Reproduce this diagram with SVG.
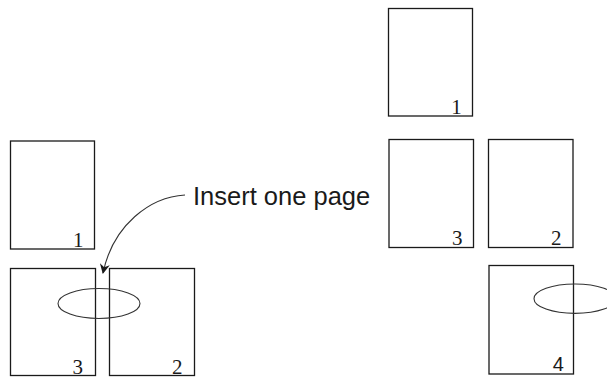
<svg xmlns="http://www.w3.org/2000/svg" width="607" height="377" viewBox="0 0 607 377">
<defs>
<style>
.page{fill:#fff;stroke:#1a1a1a;stroke-width:1.3}
.oval{fill:none;stroke:#333;stroke-width:1.1}
.num{font-family:"Liberation Serif",serif;font-size:21px;fill:#1a1a1a;text-anchor:middle}
.sans{font-family:"Liberation Sans",Arial,sans-serif}
.conn{fill:none;stroke:#333;stroke-width:1.1}
</style>
<marker id="arr" viewBox="0 0 10 10" refX="9" refY="5" markerWidth="10" markerHeight="10" markerUnits="userSpaceOnUse" orient="auto">
<path d="M0,0 L10,5 L0,10 L3,5 Z" fill="#1a1a1a"/>
</marker>
</defs>
<rect width="607" height="377" fill="#fff"/>
<g id="left-page1"><rect class="page" x="10.5" y="141" width="84" height="108"/><text class="num" x="78.3" y="246.5">1</text></g>
<g id="left-page3"><rect class="page" x="10.5" y="268.5" width="85" height="107"/><text class="num" x="77.7" y="373.5">3</text></g>
<g id="left-page2"><rect class="page" x="109.5" y="268.5" width="85" height="107"/><text class="num" x="177.2" y="373.5">2</text></g>
<g id="left-oval"><ellipse class="oval" cx="99" cy="303.5" rx="41" ry="15"/></g>
<g id="label"><text class="sans" x="193" y="205" font-size="25.5" fill="#1a1a1a">Insert one page</text></g>
<g id="right-page1"><rect class="page" x="388.5" y="8.5" width="84" height="107.5"/><text class="num" x="456.5" y="114">1</text></g>
<g id="right-page3"><rect class="page" x="389" y="139.5" width="84.5" height="108"/><text class="num" x="457.2" y="245">3</text></g>
<g id="right-page2"><rect class="page" x="488.5" y="139.5" width="84.5" height="108"/><text class="num" x="556.3" y="245">2</text></g>
<g id="right-page4"><rect class="page" x="489" y="265.5" width="84.5" height="108.5"/><text class="sans" x="558.3" y="370.5" font-size="20" fill="#1a1a1a" text-anchor="middle">4</text></g>
<g id="right-oval"><ellipse class="oval" cx="575" cy="298.7" rx="41" ry="14.7"/></g>
<g id="connectors"><path class="conn" d="M185,195 C150,197 113,225 103,273" marker-end="url(#arr)"/></g>
</svg>
